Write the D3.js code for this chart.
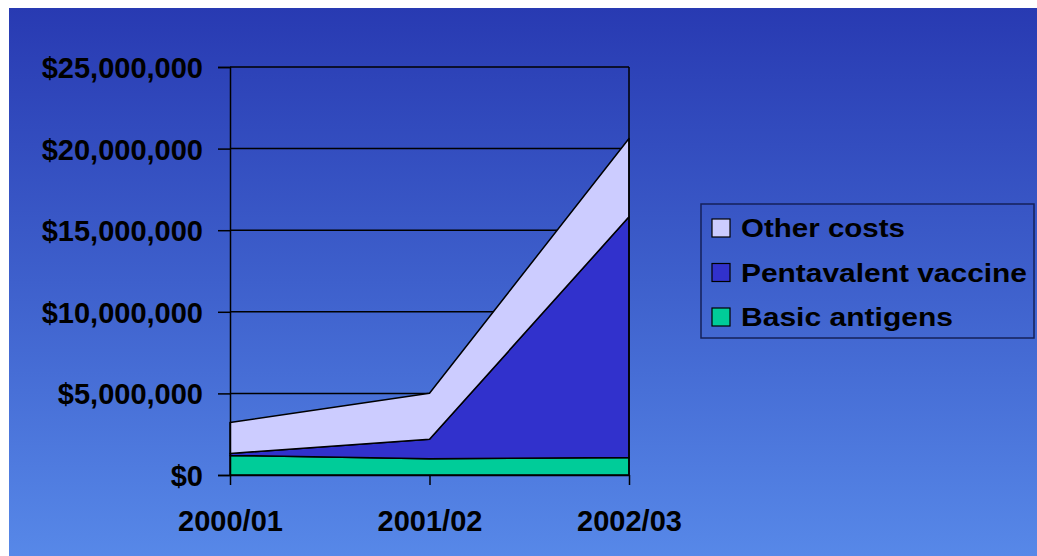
<!DOCTYPE html>
<html>
<head>
<meta charset="utf-8">
<script src="https://cdn.jsdelivr.net/npm/d3@7"></script>
<style>
  html, body { margin: 0; padding: 0; background: #ffffff; }
  svg { display: block; }
  text { font-family: "Liberation Sans", Arial, sans-serif; font-weight: bold; fill: #000; }
</style>
</head>
<body>
<svg id="chart" width="1037" height="556"></svg>
<script>
// Fiscal years on the category axis
const years = ["2000/01", "2001/02", "2002/03"];

// Cost components per year (US$)
const basicAntigens = [1200000, 1000000, 1070000];
const pentavalentVaccine = [120000, 1190000, 14750000];
const otherCosts = [1900000, 2820000, 4800000];

// Value axis ticks
const yTicks = [0, 5000000, 10000000, 15000000, 20000000, 25000000];

// Series in stacking order (bottom to top) and legend order (top to bottom)
const seriesNames = ["Basic antigens", "Pentavalent vaccine", "Other costs"];
const seriesColors = ["#00cc99", "#3131cc", "#ccccff"];
const legendOrder = ["Other costs", "Pentavalent vaccine", "Basic antigens"];

const rows = years.map((y, i) => ({
  year: y,
  "Basic antigens": basicAntigens[i],
  "Pentavalent vaccine": pentavalentVaccine[i],
  "Other costs": otherCosts[i]
}));

const svg = d3.select("#chart");
const W = 1037, H = 556;

// Slide background: vertical blue gradient
const defs = svg.append("defs");
const grad = defs.append("linearGradient")
  .attr("id", "bg").attr("x1", 0).attr("y1", 0).attr("x2", 0).attr("y2", 1);
grad.append("stop").attr("offset", "0%").attr("stop-color", "#283ab2");
grad.append("stop").attr("offset", "50%").attr("stop-color", "#3e60cc");
grad.append("stop").attr("offset", "100%").attr("stop-color", "#5788e8");
svg.append("rect").attr("x", 9).attr("y", 8).attr("width", W - 9).attr("height", H - 8)
  .attr("fill", "url(#bg)");

const plot = { left: 230, right: 629, top: 67, bottom: 475 };

const x = d3.scalePoint().domain(years).range([plot.left, plot.right]);
const y = d3.scaleLinear().domain([0, 25000000]).range([plot.bottom, plot.top]);

// Gridlines
svg.append("g")
  .selectAll("line").data(yTicks.filter(t => t > 0)).join("line")
  .attr("x1", plot.left).attr("x2", plot.right)
  .attr("y1", d => y(d)).attr("y2", d => y(d))
  .attr("stroke", "#000").attr("stroke-width", 1.5);

// Stacked areas
const stack = d3.stack().keys(seriesNames);
const layers = stack(rows);
const area = d3.area()
  .x(d => x(d.data.year))
  .y0(d => y(d[0]))
  .y1(d => y(d[1]));

svg.append("g")
  .selectAll("path").data(layers).join("path")
  .attr("d", area)
  .attr("fill", (d, i) => seriesColors[i])
  .attr("stroke", "#000").attr("stroke-width", 1.5)
  .attr("stroke-linejoin", "round");

// Right border of the plot area
svg.append("line")
  .attr("x1", plot.right).attr("x2", plot.right)
  .attr("y1", plot.top).attr("y2", plot.bottom)
  .attr("stroke", "#000").attr("stroke-width", 1.5);

// Value axis
const fmt = v => "$" + d3.format(",")(v);
const yAxis = svg.append("g")
  .attr("transform", `translate(${plot.left},0)`)
  .call(d3.axisLeft(y).tickValues(yTicks).tickFormat(fmt).tickSize(12).tickPadding(15));
yAxis.select(".domain").attr("stroke", "#000").attr("stroke-width", 1.5);
yAxis.selectAll(".tick line").attr("stroke", "#000").attr("stroke-width", 1.5);
yAxis.selectAll(".tick text")
  .attr("font-size", 29).attr("font-family", "Liberation Sans, Arial, sans-serif")
  .attr("font-weight", "bold").attr("fill", "#000").attr("dy", "0.36em");

// Category axis
const xAxis = svg.append("g")
  .attr("transform", `translate(0,${plot.bottom})`)
  .call(d3.axisBottom(x).tickSize(10).tickPadding(25).tickSizeOuter(0));
xAxis.select(".domain").attr("stroke", "#000").attr("stroke-width", 1.5);
xAxis.selectAll(".tick line").attr("stroke", "#000").attr("stroke-width", 1.5);
xAxis.selectAll(".tick text")
  .attr("font-size", 29).attr("font-family", "Liberation Sans, Arial, sans-serif")
  .attr("font-weight", "bold").attr("fill", "#000");

// Legend
const legend = svg.append("g");
legend.append("rect")
  .attr("x", 701).attr("y", 204).attr("width", 333).attr("height", 134)
  .attr("fill", "none").attr("stroke", "#15205a").attr("stroke-width", 1.5);
const legendWidths = { "Other costs": 164, "Pentavalent vaccine": 286, "Basic antigens": 212 };
const items = legend.selectAll("g.item").data(legendOrder).join("g")
  .attr("class", "item")
  .attr("transform", (d, i) => `translate(712,${228 + i * 44.5})`);
items.append("rect")
  .attr("x", 0).attr("y", -9).attr("width", 18).attr("height", 18)
  .attr("fill", d => seriesColors[seriesNames.indexOf(d)])
  .attr("stroke", "#000").attr("stroke-width", 1.2);
items.append("text")
  .attr("x", 29).attr("y", 9)
  .attr("font-size", 25)
  .attr("textLength", d => legendWidths[d])
  .attr("lengthAdjust", "spacingAndGlyphs")
  .text(d => d);
</script>
</body>
</html>
